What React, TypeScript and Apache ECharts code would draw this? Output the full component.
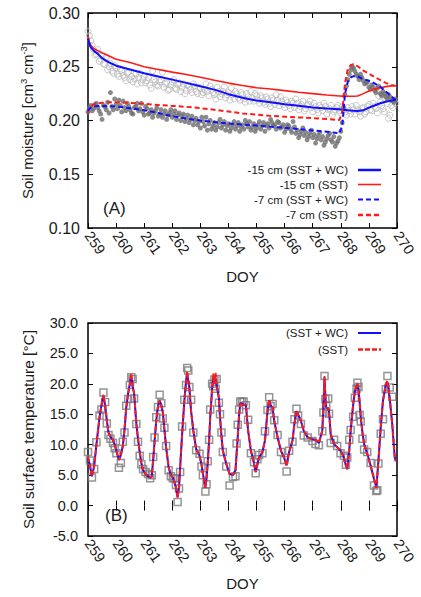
import React, { useEffect, useRef } from "react";
import * as echarts from "echarts";

// ---------- Panel A: soil moisture ----------
const doyObs = [
  259.0, 259.1, 259.2, 259.3, 259.4, 259.5, 259.6, 259.7, 259.8, 259.9,
  260.0, 260.1, 260.2, 260.3, 260.4, 260.5, 260.6, 260.7, 260.8, 260.9,
  261.0, 261.1, 261.2, 261.3, 261.4, 261.5, 261.6, 261.7, 261.8, 261.9,
  262.0, 262.1, 262.2, 262.3, 262.4, 262.5, 262.6, 262.7, 262.8, 262.9,
  263.0, 263.1, 263.2, 263.3, 263.4, 263.5, 263.6, 263.7, 263.8, 263.9,
  264.0, 264.1, 264.2, 264.3, 264.4, 264.5, 264.6, 264.7, 264.8, 264.9,
  265.0, 265.1, 265.2, 265.3, 265.4, 265.5, 265.6, 265.7, 265.8, 265.9,
  266.0, 266.1, 266.2, 266.3, 266.4, 266.5, 266.6, 266.7, 266.8, 266.9,
  267.0, 267.1, 267.2, 267.3, 267.4, 267.5, 267.6, 267.7, 267.8, 267.9,
  268.0, 268.1, 268.2, 268.3, 268.4, 268.5, 268.6, 268.7, 268.8, 268.9,
  269.0, 269.1, 269.2, 269.3, 269.4, 269.5, 269.6, 269.7, 269.8, 269.9,
];
const sm15Obs = [
  0.283, 0.274, 0.266, 0.262, 0.255, 0.260, 0.252, 0.247, 0.253, 0.244,
  0.249, 0.241, 0.246, 0.240, 0.244, 0.238, 0.236, 0.243, 0.240, 0.235,
  0.241, 0.237, 0.233, 0.246, 0.236, 0.232, 0.238, 0.231, 0.235, 0.229,
  0.236, 0.230, 0.233, 0.227, 0.234, 0.228, 0.231, 0.226, 0.232, 0.225,
  0.230, 0.226, 0.234, 0.223, 0.229, 0.224, 0.231, 0.222, 0.227, 0.221,
  0.226, 0.230, 0.220, 0.225, 0.219, 0.224, 0.217, 0.222, 0.227, 0.218,
  0.223, 0.216, 0.221, 0.215, 0.220, 0.213, 0.219, 0.224, 0.214, 0.218,
  0.212, 0.217, 0.211, 0.216, 0.220, 0.210, 0.215, 0.209, 0.214, 0.218,
  0.208, 0.213, 0.207, 0.212, 0.216, 0.206, 0.211, 0.205, 0.210, 0.214,
  0.207, 0.211, 0.205, 0.209, 0.213, 0.206, 0.210, 0.204, 0.212, 0.208,
  0.215, 0.209, 0.213, 0.207, 0.217, 0.211, 0.220, 0.202, 0.214, 0.218,
];
const sm7Obs = [
  0.208, 0.214, 0.211, 0.216, 0.209, 0.201, 0.213, 0.217, 0.226, 0.210,
  0.215, 0.219, 0.208, 0.212, 0.216, 0.210, 0.206, 0.213, 0.209, 0.216,
  0.205, 0.211, 0.207, 0.203, 0.209, 0.204, 0.210, 0.206, 0.201, 0.207,
  0.203, 0.209, 0.205, 0.200, 0.206, 0.202, 0.198, 0.204, 0.200, 0.196,
  0.193, 0.199, 0.203, 0.197, 0.192, 0.198, 0.194, 0.201, 0.196, 0.191,
  0.197, 0.193, 0.199, 0.195, 0.190, 0.196, 0.200, 0.194, 0.191, 0.197,
  0.193, 0.199, 0.195, 0.190, 0.197, 0.201, 0.195, 0.192, 0.198, 0.194,
  0.189, 0.196, 0.192, 0.199, 0.188, 0.184, 0.190, 0.186, 0.182, 0.188,
  0.184, 0.179, 0.186, 0.182, 0.177, 0.183, 0.188, 0.180, 0.176, 0.181,
  0.190, 0.212, 0.232, 0.243, 0.250, 0.246, 0.241, 0.243, 0.237, 0.235,
  0.231, 0.233, 0.228, 0.230, 0.225, 0.227, 0.222, 0.224, 0.219, 0.217,
];
// second half-hourly-offset set of readings
const doyObs2 = [
  259.05, 259.15, 259.25, 259.35, 259.45, 259.55, 259.65, 259.75, 259.85, 259.95,
  260.05, 260.15, 260.25, 260.35, 260.45, 260.55, 260.65, 260.75, 260.85, 260.95,
  261.05, 261.15, 261.25, 261.35, 261.45, 261.55, 261.65, 261.75, 261.85, 261.95,
  262.05, 262.15, 262.25, 262.35, 262.45, 262.55, 262.65, 262.75, 262.85, 262.95,
  263.05, 263.15, 263.25, 263.35, 263.45, 263.55, 263.65, 263.75, 263.85, 263.95,
  264.05, 264.15, 264.25, 264.35, 264.45, 264.55, 264.65, 264.75, 264.85, 264.95,
  265.05, 265.15, 265.25, 265.35, 265.45, 265.55, 265.65, 265.75, 265.85, 265.95,
  266.05, 266.15, 266.25, 266.35, 266.45, 266.55, 266.65, 266.75, 266.85, 266.95,
  267.05, 267.15, 267.25, 267.35, 267.45, 267.55, 267.65, 267.75, 267.85, 267.95,
  268.05, 268.15, 268.25, 268.35, 268.45, 268.55, 268.65, 268.75, 268.85, 268.95,
  269.05, 269.15, 269.25, 269.35, 269.45, 269.55, 269.65, 269.75, 269.85, 269.95,
];
const sm15Obs2 = [
  0.279, 0.270, 0.261, 0.266, 0.257, 0.253, 0.259, 0.250, 0.246, 0.251,
  0.243, 0.248, 0.242, 0.237, 0.245, 0.241, 0.239, 0.234, 0.244, 0.238,
  0.235, 0.240, 0.230, 0.238, 0.233, 0.236, 0.245, 0.234, 0.228, 0.233,
  0.238, 0.229, 0.235, 0.231, 0.225, 0.233, 0.229, 0.234, 0.227, 0.231,
  0.224, 0.229, 0.227, 0.232, 0.226, 0.220, 0.227, 0.225, 0.231, 0.224,
  0.219, 0.224, 0.227, 0.221, 0.226, 0.220, 0.225, 0.218, 0.221, 0.225,
  0.219, 0.223, 0.217, 0.222, 0.216, 0.221, 0.215, 0.219, 0.222, 0.215,
  0.219, 0.214, 0.218, 0.212, 0.216, 0.213, 0.218, 0.211, 0.215, 0.212,
  0.216, 0.210, 0.214, 0.209, 0.213, 0.210, 0.214, 0.208, 0.212, 0.209,
  0.213, 0.208, 0.212, 0.206, 0.210, 0.214, 0.208, 0.211, 0.206, 0.213,
  0.210, 0.216, 0.211, 0.223, 0.214, 0.208, 0.216, 0.205, 0.212, 0.216,
];
const sm7Obs2 = [
  0.212, 0.209, 0.215, 0.212, 0.206, 0.214, 0.210, 0.207, 0.213, 0.220,
  0.211, 0.214, 0.218, 0.209, 0.213, 0.207, 0.212, 0.216, 0.211, 0.208,
  0.213, 0.206, 0.210, 0.207, 0.212, 0.206, 0.203, 0.209, 0.205, 0.210,
  0.206, 0.201, 0.207, 0.204, 0.199, 0.205, 0.201, 0.196, 0.202, 0.199,
  0.203, 0.195, 0.191, 0.200, 0.195, 0.191, 0.198, 0.193, 0.199, 0.195,
  0.190, 0.196, 0.192, 0.198, 0.194, 0.192, 0.197, 0.199, 0.194, 0.190,
  0.196, 0.192, 0.198, 0.195, 0.193, 0.198, 0.196, 0.199, 0.193, 0.196,
  0.192, 0.195, 0.189, 0.194, 0.191, 0.187, 0.193, 0.189, 0.185, 0.191,
  0.187, 0.183, 0.189, 0.185, 0.180, 0.186, 0.182, 0.185, 0.179, 0.184,
  0.198, 0.224, 0.238, 0.247, 0.249, 0.243, 0.238, 0.240, 0.234, 0.236,
  0.229, 0.231, 0.226, 0.232, 0.223, 0.225, 0.220, 0.222, 0.218, 0.220,
];

const doyModel = [
  259.0, 259.05, 259.1, 259.2, 259.35, 259.5, 259.75, 260.0, 260.5, 261.0,
  261.5, 262.0, 262.5, 263.0, 263.5, 264.0, 264.5, 265.0, 265.5, 266.0,
  266.5, 267.0, 267.5, 267.95, 268.05, 268.15, 268.25, 268.35, 268.45, 268.6,
  268.8, 269.0, 269.2, 269.4, 269.6, 269.8, 269.95,
];
const sm15SSTWC = [
  0.276, 0.271, 0.268, 0.265, 0.262, 0.258, 0.254, 0.251, 0.2475, 0.244,
  0.241, 0.238, 0.235, 0.2318, 0.2287, 0.2245, 0.2212, 0.2185, 0.2169, 0.2152,
  0.2137, 0.2122, 0.2111, 0.2104, 0.2101, 0.2098, 0.2095, 0.2092, 0.209, 0.2088,
  0.2095, 0.212, 0.214, 0.216, 0.2175, 0.2185, 0.2191,
];
const sm15SST = [
  0.279, 0.273, 0.270, 0.267, 0.265, 0.263, 0.260, 0.257, 0.254, 0.250,
  0.2475, 0.245, 0.2428, 0.2403, 0.2375, 0.2348, 0.2325, 0.2305, 0.2293, 0.2278,
  0.2263, 0.225, 0.2237, 0.2228, 0.2227, 0.2227, 0.2226, 0.2226, 0.2226, 0.2228,
  0.225, 0.2275, 0.2292, 0.2305, 0.2315, 0.2322, 0.2324,
];
const sm7SSTWC = [
  0.209, 0.211, 0.212, 0.213, 0.2135, 0.2135, 0.2133, 0.213, 0.2115, 0.2095,
  0.207, 0.204, 0.2018, 0.200, 0.1985, 0.1972, 0.1963, 0.1953, 0.1943, 0.1932,
  0.192, 0.1908, 0.1895, 0.1882, 0.195, 0.225, 0.236, 0.240, 0.2412, 0.241,
  0.2385, 0.237, 0.2345, 0.2314, 0.227, 0.2225, 0.2191,
];
const sm7SST = [
  0.207, 0.211, 0.213, 0.215, 0.216, 0.2165, 0.217, 0.217, 0.2163, 0.2155,
  0.2145, 0.2136, 0.2127, 0.2115, 0.210, 0.2083, 0.2066, 0.2055, 0.2043, 0.2036,
  0.2029, 0.2022, 0.2013, 0.2005, 0.208, 0.235, 0.248, 0.2515, 0.2523, 0.2505,
  0.2465, 0.2435, 0.2405, 0.2377, 0.235, 0.233, 0.2322,
];
const legendA = ["-15 cm (SST + WC)", "-15 cm (SST)", "-7 cm (SST + WC)", "-7 cm (SST)"];

// ---------- Panel B: soil surface temperature ----------
const doyT = [
  259.00, 259.07, 259.14, 259.22, 259.30, 259.41, 259.48, 259.55, 259.61, 259.67,
  259.73, 259.80, 259.89, 259.95, 260.01, 260.10, 260.17, 260.24, 260.30, 260.36,
  260.43, 260.49, 260.54, 260.59, 260.64, 260.72, 260.78, 260.84, 260.90, 260.96,
  261.05, 261.14, 261.21, 261.27, 261.32, 261.37, 261.43, 261.49, 261.55, 261.61,
  261.66, 261.72, 261.78, 261.87, 261.95, 262.02, 262.08, 262.13, 262.19, 262.24,
  262.28, 262.35, 262.43, 262.49, 262.53, 262.57, 262.61, 262.67, 262.75, 262.85,
  262.97, 263.04, 263.09, 263.18, 263.22, 263.26, 263.31, 263.35, 263.42, 263.46,
  263.50, 263.54, 263.58, 263.66, 263.70, 263.75, 263.80, 263.92, 264.04, 264.16,
  264.25, 264.29, 264.33, 264.38, 264.42, 264.48, 264.54, 264.62, 264.70, 264.80,
  264.91, 264.97, 265.03, 265.09, 265.21, 265.30, 265.39, 265.45, 265.50, 265.57,
  265.63, 265.75, 265.87, 265.98, 266.07, 266.16, 266.28, 266.35, 266.42, 266.48,
  266.58, 266.68, 266.82, 266.99, 267.10, 267.22, 267.34, 267.38, 267.42, 267.45,
  267.48, 267.55, 267.58, 267.64, 267.76, 267.87, 267.99, 268.11, 268.18, 268.23,
  268.30, 268.35, 268.44, 268.50, 268.56, 268.59, 268.63, 268.67, 268.71, 268.77,
  268.83, 268.94, 269.06, 269.18, 269.26, 269.30, 269.34, 269.42, 269.50, 269.60,
  269.66, 269.74, 269.83, 269.92, 269.96,
];
const tsSSTWC = [
  8.0, 6.5, 4.8, 6.5, 10.0, 14.5, 16.5, 18.0, 16.5, 14.0,
  12.0, 11.3, 10.8, 10.0, 9.0, 7.5, 8.3, 9.8, 12.5, 16.0,
  18.5, 20.0, 21.3, 19.5, 18.5, 13.5, 11.0, 8.8, 7.0, 5.8,
  5.2, 4.8, 4.6, 4.8, 7.5, 10.5, 14.0, 16.3, 17.2, 16.5,
  15.5, 12.5, 9.6, 6.3, 5.0, 4.6, 3.8, 3.0, 1.4, 3.0,
  6.3, 11.7, 17.2, 20.5, 21.8, 20.5, 19.3, 15.5, 12.3, 9.3,
  8.2, 6.8, 5.2, 3.0, 4.5, 6.9, 10.5, 14.5, 19.3, 21.0,
  20.0, 21.0, 19.8, 17.7, 14.5, 11.5, 9.0, 6.9, 5.2, 5.0,
  5.8, 8.5, 11.2, 15.0, 16.8, 16.8, 16.5, 16.6, 12.3, 9.0,
  6.9, 5.5, 6.8, 7.9, 8.8, 10.7, 15.5, 17.3, 16.5, 16.1,
  13.9, 11.2, 9.0, 7.9, 6.6, 8.8, 10.7, 13.5, 15.5, 15.0,
  13.9, 12.3, 11.2, 10.9, 10.8, 10.3, 12.3, 16.0, 21.0, 18.0,
  16.1, 16.0, 15.5, 11.7, 10.1, 9.6, 9.0, 7.9, 6.6, 6.0,
  9.0, 12.3, 16.6, 18.8, 19.5, 19.9, 19.0, 17.0, 14.5, 12.0,
  10.1, 8.5, 6.6, 4.4, 3.0, 5.0, 7.4, 12.8, 17.2, 19.9,
  20.3, 17.7, 13.4, 7.9, 7.3,
];
const tsSST = [
  8.0, 6.5, 4.8, 6.5, 10.0, 14.5, 16.5, 18.2, 16.5, 14.0,
  12.0, 11.3, 10.8, 10.0, 9.0, 7.5, 8.3, 9.8, 12.5, 16.0,
  18.5, 20.0, 21.7, 19.5, 18.5, 13.5, 11.0, 8.8, 7.0, 5.8,
  5.2, 4.8, 4.6, 4.8, 7.5, 10.5, 14.0, 16.3, 17.3, 16.5,
  15.5, 12.5, 9.6, 6.3, 5.0, 4.6, 3.8, 3.0, 1.3, 3.0,
  6.3, 11.7, 17.2, 20.5, 22.0, 20.5, 19.3, 15.5, 12.3, 9.3,
  8.2, 6.8, 5.2, 2.9, 4.5, 6.9, 10.5, 14.5, 19.3, 21.7,
  20.0, 21.8, 19.8, 17.7, 14.5, 11.5, 9.0, 6.9, 5.2, 5.0,
  5.8, 8.5, 11.2, 15.0, 16.8, 16.9, 16.5, 16.6, 12.3, 9.0,
  6.9, 5.5, 6.8, 7.9, 8.8, 10.7, 15.5, 17.4, 16.5, 16.1,
  13.9, 11.2, 9.0, 7.9, 6.5, 8.8, 10.7, 13.5, 15.6, 15.0,
  13.9, 12.3, 11.2, 10.9, 10.8, 10.3, 12.3, 16.0, 21.3, 18.0,
  16.1, 16.0, 15.5, 11.7, 10.1, 9.6, 9.0, 7.9, 6.6, 6.0,
  9.0, 12.3, 16.6, 18.8, 19.8, 20.1, 19.0, 17.0, 14.5, 12.0,
  10.1, 8.5, 6.6, 4.4, 2.9, 5.0, 7.4, 12.8, 17.2, 20.0,
  20.5, 17.7, 13.4, 7.9, 7.3,
];
const tsObs = [
  8.8, 7.4, 4.6, 6.0, 10.4, 14.8, 15.8, 18.6, 17.0, 13.5,
  11.6, 11.0, 10.3, 9.4, 8.6, 6.2, 7.0, 10.5, 12.0, 16.4,
  17.5, 19.8, 21.1, 20.8, 17.6, 13.4, 10.5, 8.2, 6.8, 6.0,
  5.5, 5.2, 4.5, 5.0, 8.0, 11.2, 14.5, 16.2, 18.2, 16.8,
  14.3, 12.8, 9.8, 5.8, 4.8, 4.5, 4.5, 3.4, 0.6, 2.8,
  5.5, 13.0, 17.4, 19.8, 22.6, 22.2, 19.5, 17.4, 12.0, 9.1,
  8.5, 6.4, 5.0, 2.3, 3.5, 7.3, 10.8, 15.8, 20.0, 19.6,
  20.7, 19.2, 20.8, 16.9, 15.0, 12.0, 8.8, 6.4, 3.3, 4.7,
  4.8, 10.2, 13.3, 15.8, 17.1, 17.0, 17.1, 16.5, 14.1, 8.6,
  7.1, 5.3, 7.6, 8.3, 8.6, 12.2, 15.7, 17.8, 16.3, 16.7,
  14.0, 11.6, 8.8, 7.5, 5.6, 9.0, 10.5, 14.2, 15.9, 14.8,
  13.4, 11.5, 11.2, 10.6, 10.1, 9.9, 12.2, 15.3, 21.3, 17.5,
  16.4, 17.6, 15.1, 10.3, 10.8, 9.8, 8.6, 8.2, 6.7, 7.9,
  10.8, 12.4, 14.6, 17.7, 19.2, 20.2, 19.5, 14.9, 13.8, 11.0,
  9.2, 8.8, 7.0, 3.3, 2.4, 2.5, 6.9, 11.8, 14.2, 19.1,
  21.3, 19.4, 17.9, null, null,
];
const legendB = ["(SST + WC)", "(SST)"];

const BLUE = "#1010ff";
const RED = "#ff1a1a";
const FONT = "'Liberation Sans', Arial, sans-serif";
const TXT = "#1a1a1a";

const pairs = (xs: number[], ys: (number | null)[]) =>
  xs.map((x, i) => [x, ys[i]]).filter((p) => p[1] !== null && p[1] !== undefined);

function xMain(gridIndex: number, nameGap: number) {
  return {
    type: "value",
    gridIndex,
    min: 259,
    max: 270,
    interval: 1,
    name: "DOY",
    nameLocation: "middle",
    nameGap,
    nameTextStyle: { fontFamily: FONT, fontSize: 15, color: TXT },
    axisLine: { show: false },
    axisTick: { inside: true, length: 5, lineStyle: { color: "#000", width: 1 } },
    axisLabel: {
      rotate: -55,
      fontFamily: FONT,
      fontSize: 14.5,
      color: TXT,
      margin: 5,
      showMinLabel: true,
      showMaxLabel: true,
    },
    splitLine: { show: false },
  };
}
function xMirror(gridIndex: number) {
  return {
    type: "value",
    gridIndex,
    position: "top",
    min: 259,
    max: 270,
    interval: 1,
    axisLine: { show: false },
    axisTick: { inside: true, length: 5, lineStyle: { color: "#000", width: 1 } },
    axisLabel: { show: false },
    splitLine: { show: false },
  };
}
function yMirror(gridIndex: number, min: number, max: number, interval: number) {
  return {
    type: "value",
    gridIndex,
    position: "right",
    min,
    max,
    interval,
    axisLine: { show: false },
    axisTick: { inside: true, length: 5, lineStyle: { color: "#000", width: 1 } },
    axisLabel: { show: false },
    splitLine: { show: false },
  };
}

export default function App() {
  const ref = useRef<HTMLDivElement>(null);
  useEffect(() => {
    if (!ref.current) return;
    const chart = echarts.init(ref.current, undefined, { renderer: "svg" });

    const legendRowsA = [170, 184.5, 199.5, 215];
    const legendStylesA = [
      { stroke: BLUE, lineWidth: 2.5, lineDash: null as any },
      { stroke: RED, lineWidth: 1.6, lineDash: null as any },
      { stroke: BLUE, lineWidth: 2, lineDash: [5, 3] },
      { stroke: RED, lineWidth: 2.5, lineDash: [5, 3] },
    ];
    const legendRowsB = [333, 349.5];
    const legendStylesB = [
      { stroke: BLUE, lineWidth: 2, lineDash: null as any },
      { stroke: RED, lineWidth: 2.5, lineDash: [5, 2] },
    ];
    const graphics: any[] = [];
    legendA.forEach((t, i) => {
      graphics.push({
        type: "text",
        x: 348,
        y: legendRowsA[i],
        style: { text: t, textAlign: "right", textVerticalAlign: "middle", font: `11.5px ${FONT}`, fill: TXT },
      });
      graphics.push({
        type: "line",
        shape: { x1: 358, y1: legendRowsA[i], x2: 381, y2: legendRowsA[i] },
        style: { ...legendStylesA[i] },
      });
    });
    legendB.forEach((t, i) => {
      graphics.push({
        type: "text",
        x: 348,
        y: legendRowsB[i],
        style: { text: t, textAlign: "right", textVerticalAlign: "middle", font: `11.5px ${FONT}`, fill: TXT },
      });
      graphics.push({
        type: "line",
        shape: { x1: 358, y1: legendRowsB[i], x2: 381, y2: legendRowsB[i] },
        style: { ...legendStylesB[i] },
      });
    });
    graphics.push({
      type: "text",
      x: 103,
      y: 208,
      style: { text: "(A)", textVerticalAlign: "middle", font: `17px ${FONT}`, fill: TXT },
    });
    graphics.push({
      type: "text",
      x: 105,
      y: 515,
      style: { text: "(B)", textVerticalAlign: "middle", font: `17px ${FONT}`, fill: TXT },
    });

    const obs15 = [...pairs(doyObs, sm15Obs), ...pairs(doyObs2, sm15Obs2)];
    const obs7 = [...pairs(doyObs, sm7Obs), ...pairs(doyObs2, sm7Obs2)];

    chart.setOption({
      animation: false,
      backgroundColor: "#fff",
      grid: [
        { left: 88, top: 13, width: 309, height: 215, show: true, borderColor: "#000", borderWidth: 1.5, backgroundColor: "transparent" },
        { left: 88, top: 323, width: 309, height: 213, show: true, borderColor: "#000", borderWidth: 1.5, backgroundColor: "transparent" },
      ],
      xAxis: [xMain(0, 41), xMirror(0), xMain(1, 40), xMirror(1)],
      yAxis: [
        {
          type: "value",
          gridIndex: 0,
          min: 0.1,
          max: 0.3,
          interval: 0.05,
          name: "Soil moisture [cm{sup|3} cm{sup|-3}]",
          nameLocation: "middle",
          nameGap: 52,
          nameTextStyle: {
            fontFamily: FONT,
            fontSize: 15,
            color: TXT,
            lineHeight: 18,
            rich: { sup: { fontFamily: FONT, fontSize: 9.5, color: TXT, verticalAlign: "top", lineHeight: 10 } },
          },
          axisLine: { show: false },
          axisTick: { inside: true, length: 5, lineStyle: { color: "#000", width: 1 } },
          axisLabel: { fontFamily: FONT, fontSize: 16, color: TXT, margin: 8, formatter: (v: number) => v.toFixed(2) },
          splitLine: { show: false },
        },
        yMirror(0, 0.1, 0.3, 0.05),
        {
          type: "value",
          gridIndex: 1,
          min: -5,
          max: 30,
          interval: 5,
          name: "Soil surface temperature [°C]",
          nameLocation: "middle",
          nameGap: 52,
          nameTextStyle: { fontFamily: FONT, fontSize: 15.5, color: TXT },
          axisLine: { show: false },
          axisTick: { inside: true, length: 5, lineStyle: { color: "#000", width: 1 } },
          axisLabel: { fontFamily: FONT, fontSize: 14.5, color: TXT, margin: 10, formatter: (v: number) => v.toFixed(1) },
          splitLine: { show: false },
        },
        yMirror(1, -5, 30, 5),
      ],
      series: [
        {
          name: "-15 cm observed",
          type: "scatter",
          xAxisIndex: 0,
          yAxisIndex: 0,
          data: obs15,
          symbol: "circle",
          symbolSize: 6,
          itemStyle: { color: "rgba(255,255,255,0)", borderColor: "#b8b8b8", borderWidth: 1 },
        },
        {
          name: "-7 cm observed",
          type: "scatter",
          xAxisIndex: 0,
          yAxisIndex: 0,
          data: obs7,
          symbol: "circle",
          symbolSize: 5,
          itemStyle: { color: "#6e6e6e" },
        },
        {
          name: legendA[1],
          type: "line",
          xAxisIndex: 0,
          yAxisIndex: 0,
          data: pairs(doyModel, sm15SST),
          showSymbol: false,
          symbol: "none",
          lineStyle: { color: RED, width: 1.6 },
        },
        {
          name: legendA[0],
          type: "line",
          xAxisIndex: 0,
          yAxisIndex: 0,
          data: pairs(doyModel, sm15SSTWC),
          showSymbol: false,
          symbol: "none",
          lineStyle: { color: BLUE, width: 2 },
        },
        {
          name: legendA[3],
          type: "line",
          xAxisIndex: 0,
          yAxisIndex: 0,
          data: pairs(doyModel, sm7SST),
          showSymbol: false,
          symbol: "none",
          lineStyle: { color: RED, width: 2, type: [5, 3] },
        },
        {
          name: legendA[2],
          type: "line",
          xAxisIndex: 0,
          yAxisIndex: 0,
          data: pairs(doyModel, sm7SSTWC),
          showSymbol: false,
          symbol: "none",
          lineStyle: { color: BLUE, width: 2, type: [5, 3] },
        },
        {
          name: "Observed",
          type: "scatter",
          xAxisIndex: 2,
          yAxisIndex: 2,
          data: pairs(doyT, tsObs),
          symbol: "rect",
          symbolSize: 7,
          itemStyle: { color: "rgba(255,255,255,0)", borderColor: "#7a7a7a", borderWidth: 1.5 },
        },
        {
          name: legendB[0],
          type: "line",
          xAxisIndex: 2,
          yAxisIndex: 2,
          data: pairs(doyT, tsSSTWC),
          showSymbol: false,
          symbol: "none",
          lineStyle: { color: BLUE, width: 2 },
        },
        {
          name: legendB[1],
          type: "line",
          xAxisIndex: 2,
          yAxisIndex: 2,
          data: pairs(doyT, tsSST),
          showSymbol: false,
          symbol: "none",
          lineStyle: { color: RED, width: 2, type: [5, 2] },
        },
      ],
      graphic: graphics,
    });
    return () => chart.dispose();
  }, []);
  return (
    <div
      ref={ref}
      style={{ position: "absolute", left: 0, top: 0, width: 421, height: 597, background: "#fff" }}
    />
  );
}
